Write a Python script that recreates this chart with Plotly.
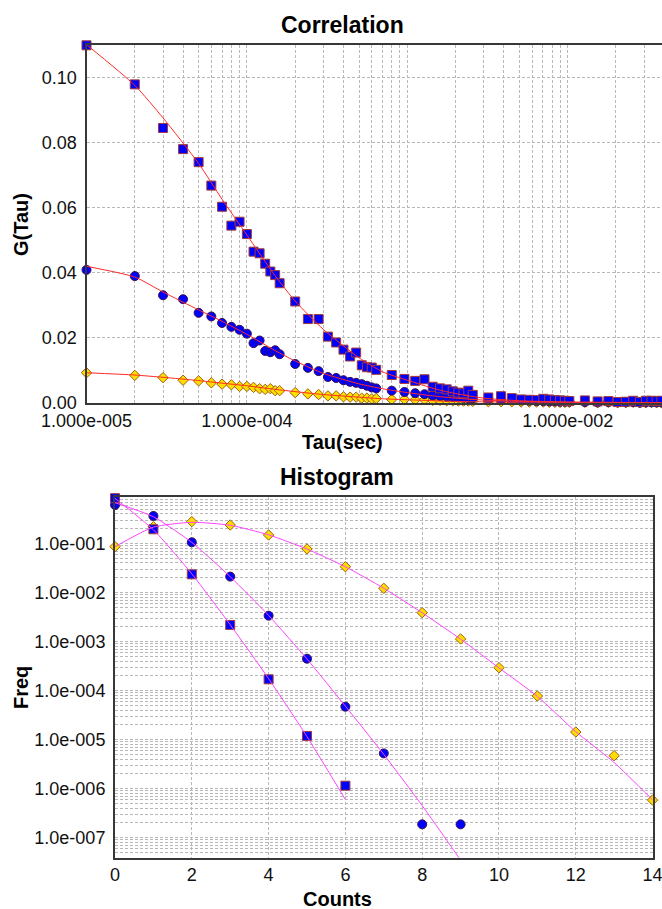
import math
import plotly.graph_objects as go

# ---------------- Correlation data ----------------
TAU = [1e-5, 2e-5, 3e-5, 4e-5, 5e-5, 6e-5, 7e-5, 8e-5, 9e-5, 1.0e-4, 1.1e-4, 1.2e-4, 1.3e-4, 1.4e-4, 1.5e-4, 1.6e-4,
       2.0e-4, 2.4e-4, 2.8e-4, 3.2e-4, 3.6e-4, 4.0e-4, 4.4e-4, 4.8e-4, 5.2e-4, 5.6e-4, 6.0e-4, 6.4e-4,
       8.0e-4, 9.6e-4, 1.12e-3, 1.28e-3, 1.44e-3, 1.60e-3, 1.76e-3, 1.92e-3, 2.08e-3, 2.24e-3, 2.40e-3, 2.56e-3,
       3.2e-3, 3.84e-3, 4.48e-3, 5.12e-3, 5.76e-3, 6.4e-3, 7.04e-3, 7.68e-3, 8.32e-3, 8.96e-3, 9.6e-3, 1.024e-2,
       1.28e-2, 1.536e-2, 1.792e-2, 2.048e-2, 2.304e-2, 2.56e-2, 2.816e-2, 3.072e-2, 3.328e-2, 3.584e-2, 3.84e-2]

G_SQUARE = [0.1098, 0.0978, 0.0844, 0.0779, 0.0739, 0.0667, 0.0602, 0.0544, 0.0556, 0.0518, 0.0464, 0.0459, 0.0427, 0.0403, 0.0392, 0.0367,
            0.0311, 0.0257, 0.0257, 0.0203, 0.0185, 0.0163, 0.0142, 0.0154, 0.0115, 0.0109, 0.0108, 0.0101,
            0.0085, 0.0073, 0.0067, 0.0072, 0.0049, 0.0044, 0.0041, 0.0035, 0.0031, 0.0029, 0.0037, 0.0024,
            0.0016, 0.0020, 0.0014, 0.0010, 0.0009, 0.0008, 0.0012, 0.0010, 0.0008, 0.0007, 0.0006, 0.0005,
            0.0007, 0.0004, 0.0005, 0.0002, 0.0003, 0.0006, 0.0002, 0.0006, 0.0006, 0.0005, 0.0006]

G_CIRCLE = [0.0408, 0.0389, 0.0330, 0.0318, 0.0276, 0.0265, 0.0245, 0.0233, 0.0224, 0.0212, 0.0183, 0.0191, 0.0159, 0.0155, 0.0161, 0.0149,
            0.0119, 0.0107, 0.0097, 0.0079, 0.0076, 0.0069, 0.0064, 0.0061, 0.0057, 0.0052, 0.0047, 0.0044,
            0.0037, 0.0033, 0.0029, 0.0026, 0.0022, 0.0020, 0.0018, 0.0017, 0.0016, 0.0015, 0.0014, 0.0013,
            0.0010, 0.0009, 0.0008, 0.0007, 0.0006, 0.0005, 0.0005, 0.0004, 0.0004, 0.0003, 0.0003, 0.0003,
            0.0002, 0.0001, 0.0002, 0.0001, 0.0001, 0.0002, 0.0000, 0.0001, 0.0001, 0.0001, 0.0001]

G_DIAMOND = [0.0092, 0.0084, 0.0077, 0.0069, 0.0067, 0.0061, 0.0057, 0.0055, 0.0050, 0.0050, 0.0047, 0.0043, 0.0041, 0.0043, 0.0037, 0.0037,
             0.0031, 0.0027, 0.0025, 0.0021, 0.0021, 0.0018, 0.0017, 0.0017, 0.0014, 0.0014, 0.0012, 0.0013,
             0.0010, 0.0010, 0.0009, 0.0009, 0.0007, 0.0007, 0.0006, 0.0006, 0.0005, 0.0005, 0.0005, 0.0004,
             0.0003, 0.0003, 0.0003, 0.0002, 0.0002, 0.0002, 0.0002, 0.0001, 0.0001, 0.0001, 0.0001, 0.0001,
             0.0001, 0.0000, 0.0001, 0.0000, 0.0000, 0.0001, 0.0000, 0.0000, 0.0001, 0.0000, 0.0000]

FIT_TAU = [1e-5, 2e-5, 3e-5, 5e-5, 7e-5, 1e-4, 1.5e-4, 2e-4, 3e-4, 5e-4, 7e-4, 1e-3, 1.5e-3, 2e-3, 3e-3, 5e-3, 1e-2, 2e-2, 3.84e-2]
FIT_SQUARE = [0.110, 0.0975, 0.0875, 0.0735, 0.0625, 0.0515, 0.0390, 0.0312, 0.0225, 0.0138, 0.0095, 0.0069, 0.0042, 0.0028, 0.0014, 0.0006, 0.0002, 0.0001, 0.00005]
FIT_CIRCLE = [0.0419, 0.0386, 0.0340, 0.0285, 0.0250, 0.0210, 0.0160, 0.0128, 0.0090, 0.0058, 0.0043, 0.0031, 0.0020, 0.0014, 0.0008, 0.0004, 0.00015, 0.00007, 0.00003]
FIT_DIAMOND = [0.0092, 0.0085, 0.0078, 0.0068, 0.0060, 0.0052, 0.0041, 0.0034, 0.0025, 0.0017, 0.0012, 0.0009, 0.0006, 0.0004, 0.00025, 0.00012, 0.00005, 0.00002, 0.00001]

CORR_Y_TICKS = [0.00, 0.02, 0.04, 0.06, 0.08, 0.10]

# ---------------- Histogram data ----------------
COUNTS_SQUARE = [0, 1, 2, 3, 4, 5, 6]
FREQ_SQUARE = [0.84, 0.195, 0.0235, 0.00218, 1.70e-4, 1.19e-5, 1.15e-6]
COUNTS_CIRCLE = [0, 1, 2, 3, 4, 5, 6, 7, 8, 9]
FREQ_CIRCLE = [0.61, 0.364, 0.1057, 0.0211, 3.37e-3, 4.47e-4, 4.69e-5, 5.24e-6, 1.87e-7, 1.87e-7]
COUNTS_DIAMOND = [0, 1, 2, 3, 4, 5, 6, 7, 8, 9, 10, 11, 12, 13, 14]
FREQ_DIAMOND = [0.086, 0.22, 0.279, 0.238, 0.149, 0.0773, 0.0336, 0.0122, 3.88e-3, 1.13e-3, 2.93e-4, 7.76e-5, 1.43e-5, 4.70e-6, 5.86e-7]

FIT_COUNTS_SQUARE = [0, 1, 2, 3, 4, 5, 6]
HFIT_SQUARE = [0.83, 0.19, 0.024, 0.0022, 1.75e-4, 1.15e-5, 6.0e-7]
FIT_COUNTS_CIRCLE = [0, 1, 2, 3, 4, 5, 6, 7, 8, 9]
HFIT_CIRCLE = [0.68, 0.35, 0.105, 0.021, 3.4e-3, 4.4e-4, 4.8e-5, 5.0e-6, 4.5e-7, 3.5e-8]
FIT_COUNTS_DIAMOND = [0, 1, 2, 3, 4, 5, 6, 7, 8, 9, 10, 11, 12, 13, 14]
HFIT_DIAMOND = [0.086, 0.215, 0.27, 0.235, 0.15, 0.077, 0.0335, 0.0122, 3.85e-3, 1.12e-3, 2.9e-4, 7.6e-5, 1.45e-5, 3.4e-6, 5.9e-7]

HIST_Y_DECADES = [-7, -6, -5, -4, -3, -2, -1]
HIST_X_TICKS = [0, 2, 4, 6, 8, 10, 12, 14]

# ---------------- helpers ----------------
W, H = 662, 909
FONT = "Liberation Sans, Arial, sans-serif"
BLUE = "#0000ff"
YELLOW = "#ffdd00"
RED = "#ff2a2a"
MAGENTA = "#ff44ff"
GRID = "#b8b8b8"
AX = "#383838"


def sci(v, digits, expw=3):
    e = int(math.floor(math.log10(v) + 1e-9))
    m = v / 10 ** e
    sign = "-" if e < 0 else "+"
    return f"{m:.{digits}f}e{sign}{abs(e):0{expw}d}"


def px_x(x):
    return x / W


def px_y(y):
    return 1 - y / H


corr_tickvals, corr_ticktext = [], []
for d in range(-5, -1):
    for k in range(1, 10):
        v = k * 10 ** d
        corr_tickvals.append(v)
        corr_ticktext.append(sci(v, 3) if k == 1 else "")

hist_tickvals, hist_ticktext = [], []
for d in range(-8, 0):
    for k in range(1, 10):
        v = k * 10 ** d
        hist_tickvals.append(v)
        hist_ticktext.append(sci(v, 1) if (k == 1 and d in HIST_Y_DECADES) else "")

fig = go.Figure()

sq_marker = dict(symbol="square", size=9, color=BLUE, line=dict(color="#a03a3a", width=1))
ci_marker = dict(symbol="circle", size=9, color=BLUE, line=dict(color="#3a1050", width=1))
di_marker = dict(symbol="diamond", size=8, color=YELLOW, line=dict(color="#a06010", width=1))

for ys, mk in [(G_DIAMOND, di_marker), (G_CIRCLE, ci_marker), (G_SQUARE, sq_marker)]:
    fig.add_trace(go.Scatter(x=TAU, y=ys, mode="markers", marker=mk, cliponaxis=False,
                             xaxis="x", yaxis="y", showlegend=False))
for ys in [FIT_SQUARE, FIT_CIRCLE, FIT_DIAMOND]:
    fig.add_trace(go.Scatter(x=FIT_TAU, y=ys, mode="lines", line=dict(color=RED, width=1, shape="spline", smoothing=0.6),
                             xaxis="x", yaxis="y", showlegend=False))

for xs, ys, mk in [(COUNTS_DIAMOND, FREQ_DIAMOND, di_marker), (COUNTS_CIRCLE, FREQ_CIRCLE, ci_marker),
                   (COUNTS_SQUARE, FREQ_SQUARE, sq_marker)]:
    fig.add_trace(go.Scatter(x=xs, y=ys, mode="markers", marker=mk, cliponaxis=False,
                             xaxis="x2", yaxis="y2", showlegend=False))
for xs, ys in [(FIT_COUNTS_SQUARE, HFIT_SQUARE), (FIT_COUNTS_CIRCLE, HFIT_CIRCLE), (FIT_COUNTS_DIAMOND, HFIT_DIAMOND)]:
    fig.add_trace(go.Scatter(x=xs, y=ys, mode="lines", line=dict(color=MAGENTA, width=1, shape="spline", smoothing=0.6),
                             xaxis="x2", yaxis="y2", showlegend=False))

tickfont = dict(family=FONT, size=18, color="#111111")
common = dict(showgrid=True, gridcolor=GRID, griddash="3px,2px", gridwidth=1, ticks="", zeroline=False,
              tickfont=tickfont, showline=True, linecolor=AX, linewidth=2, automargin=False,
              ticklabeloverflow="allow")

top_x0, top_x1 = 86.5, 662
top_y0, top_y1 = 45.3, 402.7
hist_x0, hist_x1 = 115, 652.6
hist_y0, hist_y1 = 496.7, 857.7

decade = 160.4
xmax_log = -5 + (top_x1 - top_x0) / decade

fig.update_layout(
    width=W, height=H, margin=dict(l=0, r=0, t=0, b=0, autoexpand=False),
    paper_bgcolor="white", plot_bgcolor="white",
    font=dict(family=FONT, color="#111111"),
    xaxis=dict(common, type="log", domain=[px_x(top_x0), px_x(top_x1)], range=[-5, xmax_log],
               tickmode="array", tickvals=corr_tickvals, ticktext=corr_ticktext, anchor="y",
               mirror=True, ticklabelstandoff=1),
    yaxis=dict(common, domain=[px_y(top_y1), px_y(top_y0)], range=[0, 0.1098],
               tickmode="array", tickvals=CORR_Y_TICKS, ticktext=[f"{v:.2f}" for v in CORR_Y_TICKS],
               anchor="x", ticklabelstandoff=4),
    xaxis2=dict(common, domain=[px_x(hist_x0), px_x(hist_x1)], range=[-0.0005, 14.0005],
                tickmode="array", tickvals=HIST_X_TICKS, ticktext=[str(v) for v in HIST_X_TICKS],
                anchor="y2", mirror=True, ticklabelstandoff=0),
    yaxis2=dict(common, type="log", domain=[px_y(hist_y1), px_y(hist_y0)], range=[-7.408, -0.046],
                tickmode="array", tickvals=hist_tickvals, ticktext=hist_ticktext, anchor="x2", mirror=True,
                ticklabelstandoff=4),
)

title_font = dict(family=FONT, size=23, color="#000000")
axis_font = dict(family=FONT, size=20, color="#000000")


def label(text, x, y, font, angle=0):
    fig.add_annotation(text=f"<b>{text}</b>", x=px_x(x), y=px_y(y), xref="paper", yref="paper",
                       showarrow=False, font=font, textangle=angle, xanchor="center", yanchor="middle")


label("Correlation", 342.5, 25, title_font)
label("Tau(sec)", 342.5, 442, axis_font)
label("G(Tau)", 21, 225, axis_font, -90)
label("Histogram", 337.5, 477, title_font)
label("Counts", 337.5, 899, axis_font)
label("Freq", 21, 688, axis_font, -90)

fig.write_html("out.html")
